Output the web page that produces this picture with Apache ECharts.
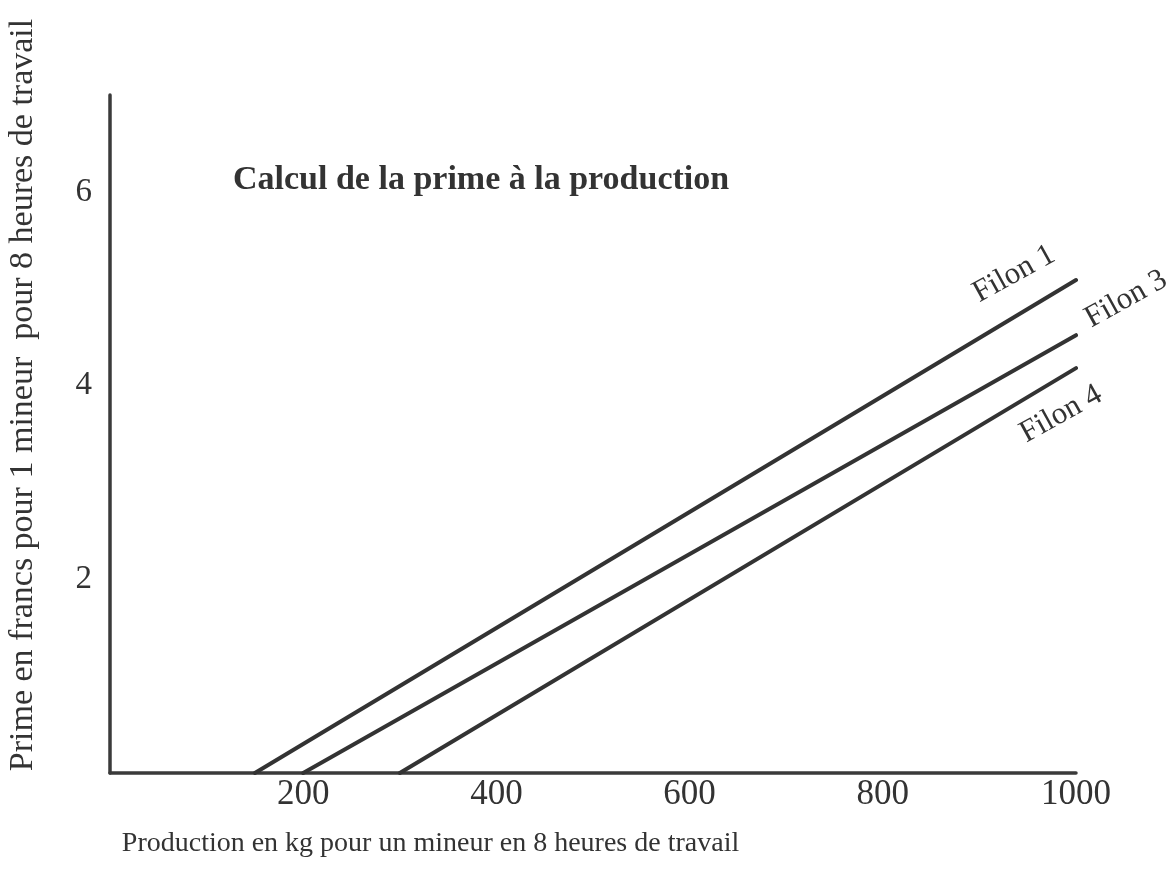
<!DOCTYPE html>
<html>
<head>
<meta charset="utf-8">
<script src="https://cdn.jsdelivr.net/npm/echarts@6/dist/echarts.min.js"></script>
<style>
html,body{margin:0;padding:0;background:#fff;}
#chart{width:1170px;height:873px;}
</style>
</head>
<body>
<div id="chart"></div>
<script>
// Data
var seriesNames = ['Filon 1', 'Filon 3', 'Filon 4'];
var filon1 = [[150, 0], [1000, 5.09]];
var filon3 = [[200, 0], [1000, 4.52]];
var filon4 = [[300, 0], [1000, 4.18]];
var xTickLabels = [200, 400, 600, 800, 1000];
var yTickLabels = [2, 4, 6];

var titleText = 'Calcul de la prime à la production';
var xName = 'Production en kg pour un mineur en 8 heures de travail';
var yName = 'Prime en francs pour 1 mineur  pour 8 heures de travail';

var SERIF = '"Liberation Serif","Times New Roman",serif';
var INK = '#333';

var chart = echarts.init(document.getElementById('chart'), null, {renderer: 'canvas'});

var seriesData = [filon1, filon3, filon4];
var option = {
  backgroundColor: '#fff',
  animation: false,
  title: {
    text: titleText,
    left: 228,
    top: 158,
    textStyle: {fontFamily: SERIF, fontWeight: 'bold', fontSize: 34, color: INK}
  },
  grid: {left: 110, right: 94, top: 95, bottom: 100, containLabel: false, outerBoundsMode: 'none'},
  xAxis: {
    type: 'value',
    min: 0, max: 1000, interval: 200,
    name: xName,
    nameLocation: 'middle',
    nameGap: 57,
    nameTextStyle: {fontFamily: SERIF, fontSize: 28, color: INK, padding: [0, 325, 0, 0]},
    axisLine: {show: true, onZero: false, lineStyle: {color: '#3a3a3a', width: 3.5}},
    axisTick: {show: false},
    splitLine: {show: false},
    axisLabel: {
      margin: 4,
      fontFamily: SERIF, fontSize: 35, color: INK,
      formatter: function (v) { return xTickLabels.indexOf(v) >= 0 ? String(v) : ''; }
    }
  },
  yAxis: {
    type: 'value',
    min: 0, max: 7, interval: 1,
    name: yName,
    nameLocation: 'middle',
    nameRotate: 90,
    nameGap: 70,
    nameTextStyle: {fontFamily: SERIF, fontSize: 34, color: INK, padding: [0, 0, 0, 78]},
    axisLine: {show: true, onZero: false, lineStyle: {color: '#3a3a3a', width: 3.5}},
    axisTick: {show: false},
    splitLine: {show: false},
    axisLabel: {
      margin: 18,
      fontFamily: SERIF, fontSize: 33, color: INK,
      formatter: function (v) { return yTickLabels.indexOf(v) >= 0 ? String(v) : ''; }
    }
  },
  series: seriesNames.map(function (n, i) {
    return {
      name: n,
      type: 'line',
      data: seriesData[i],
      symbol: 'none',
      lineStyle: {color: '#333', width: 4, cap: 'round'}
    };
  })
};
chart.setOption(option);

// Rotated series labels, anchored to each line's end point through the axes' scales
var labelOffsets = [[-62, -6], [50, -36], [-15, 46]];
var angle = 29 * Math.PI / 180;
var graphics = seriesNames.map(function (n, i) {
  var end = seriesData[i][seriesData[i].length - 1];
  var p = chart.convertToPixel({gridIndex: 0}, end);
  return {
    type: 'text',
    x: p[0] + labelOffsets[i][0],
    y: p[1] + labelOffsets[i][1],
    rotation: angle,
    style: {text: n, fontFamily: SERIF, fontSize: 31, fill: INK, align: 'center', verticalAlign: 'middle'}
  };
});
chart.setOption({graphic: graphics});
</script>
</body>
</html>
